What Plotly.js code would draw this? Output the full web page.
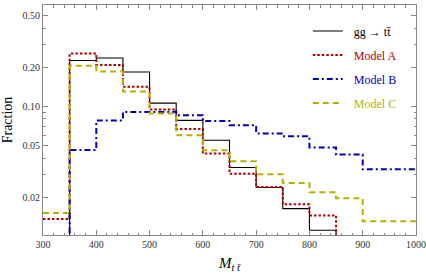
<!DOCTYPE html>
<html>
<head>
<meta charset="utf-8">
<script src="https://cdn.plot.ly/plotly-3.0.1.min.js"></script>
<style>
html,body{margin:0;padding:0;background:#fff;}
#chart{width:426px;height:275px;}
</style>
</head>
<body>
<div id="chart"></div>
<script>
// Bin edges (M_ttbar) and bin fractions per series (null = no entry)
const binEdges = [300,350,400,450,500,550,600,650,700,750,800,850,900,950,1000];
const ggTT   = [null,0.226,0.236,0.184,0.106,0.078,0.0548,0.0338,0.0237,0.0163,0.0111,null,null,null];
const modelA = [0.01355,0.256,0.209,0.1415,0.0946,0.067,0.0433,0.0303,0.0239,0.0176,0.01445,null,null,null];
const modelB = [null,0.0461,0.078,0.0907,0.0907,0.0855,0.0773,0.0715,0.0618,0.0590,0.0482,0.0425,0.0327,0.0327];
const modelC = [0.01506,0.2055,0.186,0.130,0.088,0.060,0.0459,0.0378,0.030,0.0257,0.0218,0.0196,0.0130,0.0130];
const seriesNames = ['gg \u2192 tt\u0304','Model A','Model B','Model C'];
const xTickVals = [300,400,500,600,700,800,900,1000];
const yTickVals = [0.02,0.05,0.10,0.20,0.50];
const yTickText = ['0.02','0.05','0.10','0.20','0.50'];
const yMinorVals = [0.01,0.03,0.04,0.06,0.07,0.08,0.09,0.3,0.4];

const FLOOR = 1e-5; // below axis range: draws the drop to the frame

function steps(vals){
  const x=[], y=[];
  for(let i=0;i<vals.length;i++){
    const v=vals[i];
    if(v===null) continue;
    if(i>0 && vals[i-1]===null){ x.push(binEdges[i]); y.push(FLOOR); }
    x.push(binEdges[i]); y.push(v);
    if(i===vals.length-1){ x.push(binEdges[i+1]); y.push(v); }
    else if(vals[i+1]===null){ x.push(binEdges[i+1]); y.push(FLOOR); }
  }
  return {x,y};
}

const colors = ['#000000','#b00000','#0000bb','#b3b000'];
const dashes = ['solid','2.5px,2px','6px,3px,2px,3px','6px,4px'];
const widths = [1.1,2,2,2];
const data = [ggTT,modelA,modelB,modelC].map((vals,k)=>{
  const s=steps(vals);
  return {
    x:s.x, y:s.y, type:'scatter', mode:'lines',
    line:{shape:'hv', color:colors[k], dash:dashes[k], width:widths[k]},
    name:'<span style="color:'+colors[k]+'">\u00a0\u00a0'+seriesNames[k]+'</span>',
    legendgroup:'g'+k, hoverinfo:'skip'
  };
});

const axisFont = {family:'"Liberation Serif", "Times New Roman", serif', size:10, color:'#333'};
const layout = {
  width:426, height:275,
  margin:{l:43, r:10, t:5, b:40},
  paper_bgcolor:'#fff', plot_bgcolor:'#fff',
  font:{family:'"Liberation Serif", "Times New Roman", serif', size:12, color:'#000'},
  showlegend:true,
  legend:{x:0.71, xanchor:'left', y:0.95, yanchor:'top', bgcolor:'rgba(0,0,0,0)',
          tracegroupgap:5, font:{family:'"Liberation Serif", serif', size:12}},
  xaxis:{
    range:[300,1000], tickvals:xTickVals, ticks:'inside', ticklen:5, tickcolor:'#888',
    showline:true, linecolor:'#888', linewidth:1, mirror:'allticks', showgrid:false, zeroline:false,
    tickfont:axisFont,
    minor:{dtick:20, ticks:'inside', ticklen:2.5, tickcolor:'#888', showgrid:false},
    title:{text:'<i>M</i><sub><i>t t\u0304</i></sub>', font:{family:'"Liberation Serif", serif', size:15}, standoff:8}
  },
  yaxis:{
    type:'log', range:[Math.log10(0.0102), Math.log10(0.605)],
    tickvals:yTickVals, ticktext:yTickText, ticks:'inside', ticklen:5, tickcolor:'#888',
    showline:true, linecolor:'#888', linewidth:1, mirror:'allticks', showgrid:false, zeroline:false,
    tickfont:axisFont,
    minor:{tickvals:yMinorVals, ticks:'inside', ticklen:2.5, tickcolor:'#888', showgrid:false},
    title:{text:'Fraction', font:{family:'"Liberation Serif", serif', size:14}, standoff:6}
  }
};

Plotly.newPlot('chart', data, layout, {staticPlot:true, displayModeBar:false});
</script>
</body>
</html>
